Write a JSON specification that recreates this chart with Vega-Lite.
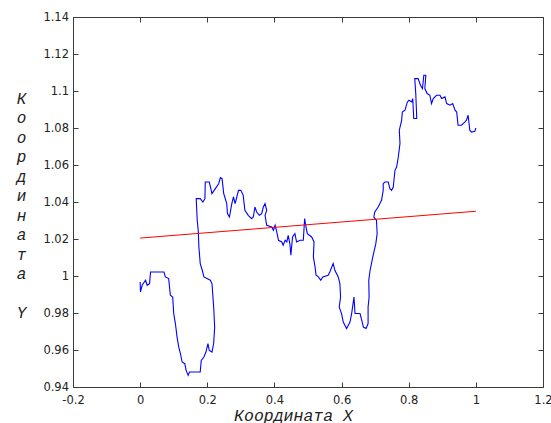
{
  "$schema": "https://vega.github.io/schema/vega-lite/v6.json",
  "width": 470,
  "height": 370,
  "autosize": {"type": "none"},
  "padding": {"left": 73, "top": 17, "right": 8, "bottom": 36},
  "background": "white",
  "config": {
    "view": {"stroke": null},
    "axis": {
      "grid": false,
      "domainColor": "#3a3a3a",
      "tickColor": "#3a3a3a",
      "tickSize": -5,
      "labelFont": "DejaVu Sans",
      "labelFontSize": 11.5,
      "labelColor": "#222222",
      "titleFont": "Liberation Mono",
      "titleFontStyle": "italic",
      "titleFontWeight": "normal",
      "titleColor": "#222222"
    }
  },
  "datasets": {
    "path": [
      {"i": 1, "x": 0.0, "y": 0.9968},
      {"i": 2, "x": 0.001, "y": 0.9914},
      {"i": 3, "x": 0.006, "y": 0.995},
      {"i": 4, "x": 0.016, "y": 0.9977},
      {"i": 5, "x": 0.021, "y": 0.995},
      {"i": 6, "x": 0.028, "y": 0.9959},
      {"i": 7, "x": 0.031, "y": 1.0022},
      {"i": 8, "x": 0.071, "y": 1.0022},
      {"i": 9, "x": 0.075, "y": 0.9995},
      {"i": 10, "x": 0.085, "y": 0.9986},
      {"i": 11, "x": 0.09, "y": 0.9896},
      {"i": 12, "x": 0.097, "y": 0.9886},
      {"i": 13, "x": 0.1, "y": 0.9797},
      {"i": 14, "x": 0.105, "y": 0.9743},
      {"i": 15, "x": 0.11, "y": 0.967},
      {"i": 16, "x": 0.115, "y": 0.9616},
      {"i": 17, "x": 0.12, "y": 0.9581},
      {"i": 18, "x": 0.125, "y": 0.9535},
      {"i": 19, "x": 0.133, "y": 0.9526},
      {"i": 20, "x": 0.137, "y": 0.949},
      {"i": 21, "x": 0.143, "y": 0.9463},
      {"i": 22, "x": 0.147, "y": 0.9481},
      {"i": 23, "x": 0.179, "y": 0.9481},
      {"i": 24, "x": 0.182, "y": 0.9544},
      {"i": 25, "x": 0.19, "y": 0.9562},
      {"i": 26, "x": 0.196, "y": 0.9589},
      {"i": 27, "x": 0.202, "y": 0.9635},
      {"i": 28, "x": 0.206, "y": 0.9598},
      {"i": 29, "x": 0.214, "y": 0.9589},
      {"i": 30, "x": 0.219, "y": 0.9635},
      {"i": 31, "x": 0.222, "y": 0.9724},
      {"i": 32, "x": 0.219, "y": 0.9832},
      {"i": 33, "x": 0.214, "y": 0.9959},
      {"i": 34, "x": 0.209, "y": 0.9977},
      {"i": 35, "x": 0.19, "y": 0.9995},
      {"i": 36, "x": 0.185, "y": 1.0031},
      {"i": 37, "x": 0.179, "y": 1.0067},
      {"i": 38, "x": 0.175, "y": 1.0157},
      {"i": 39, "x": 0.173, "y": 1.0247},
      {"i": 40, "x": 0.17, "y": 1.0301},
      {"i": 41, "x": 0.167, "y": 1.0418},
      {"i": 42, "x": 0.179, "y": 1.0418},
      {"i": 43, "x": 0.187, "y": 1.04},
      {"i": 44, "x": 0.193, "y": 1.0418},
      {"i": 45, "x": 0.194, "y": 1.0508},
      {"i": 46, "x": 0.206, "y": 1.0508},
      {"i": 47, "x": 0.214, "y": 1.0445},
      {"i": 48, "x": 0.224, "y": 1.0472},
      {"i": 49, "x": 0.234, "y": 1.0499},
      {"i": 50, "x": 0.239, "y": 1.0532},
      {"i": 51, "x": 0.244, "y": 1.0526},
      {"i": 52, "x": 0.249, "y": 1.0445},
      {"i": 53, "x": 0.258, "y": 1.0391},
      {"i": 54, "x": 0.26, "y": 1.0337},
      {"i": 55, "x": 0.266, "y": 1.0319},
      {"i": 56, "x": 0.273, "y": 1.0391},
      {"i": 57, "x": 0.278, "y": 1.0427},
      {"i": 58, "x": 0.283, "y": 1.0391},
      {"i": 59, "x": 0.293, "y": 1.0463},
      {"i": 60, "x": 0.3, "y": 1.0463},
      {"i": 61, "x": 0.307, "y": 1.0436},
      {"i": 62, "x": 0.312, "y": 1.0355},
      {"i": 63, "x": 0.322, "y": 1.0328},
      {"i": 64, "x": 0.332, "y": 1.031},
      {"i": 65, "x": 0.337, "y": 1.0319},
      {"i": 66, "x": 0.342, "y": 1.0373},
      {"i": 67, "x": 0.347, "y": 1.0346},
      {"i": 68, "x": 0.355, "y": 1.0328},
      {"i": 69, "x": 0.362, "y": 1.0337},
      {"i": 70, "x": 0.367, "y": 1.0373},
      {"i": 71, "x": 0.372, "y": 1.0391},
      {"i": 72, "x": 0.377, "y": 1.0355},
      {"i": 73, "x": 0.372, "y": 1.0328},
      {"i": 74, "x": 0.377, "y": 1.0274},
      {"i": 75, "x": 0.392, "y": 1.0265},
      {"i": 76, "x": 0.397, "y": 1.0247},
      {"i": 77, "x": 0.402, "y": 1.0274},
      {"i": 78, "x": 0.407, "y": 1.0238},
      {"i": 79, "x": 0.412, "y": 1.0193},
      {"i": 80, "x": 0.422, "y": 1.0184},
      {"i": 81, "x": 0.426, "y": 1.0166},
      {"i": 82, "x": 0.432, "y": 1.0193},
      {"i": 83, "x": 0.437, "y": 1.0184},
      {"i": 84, "x": 0.441, "y": 1.022},
      {"i": 85, "x": 0.446, "y": 1.0175},
      {"i": 86, "x": 0.449, "y": 1.0112},
      {"i": 87, "x": 0.454, "y": 1.0211},
      {"i": 88, "x": 0.461, "y": 1.0229},
      {"i": 89, "x": 0.466, "y": 1.0184},
      {"i": 90, "x": 0.476, "y": 1.0193},
      {"i": 91, "x": 0.486, "y": 1.0193},
      {"i": 92, "x": 0.49, "y": 1.031},
      {"i": 93, "x": 0.494, "y": 1.0265},
      {"i": 94, "x": 0.498, "y": 1.0229},
      {"i": 95, "x": 0.511, "y": 1.0211},
      {"i": 96, "x": 0.518, "y": 1.0184},
      {"i": 97, "x": 0.516, "y": 1.0103},
      {"i": 98, "x": 0.521, "y": 1.0049},
      {"i": 99, "x": 0.524, "y": 1.0004},
      {"i": 100, "x": 0.531, "y": 0.9995},
      {"i": 101, "x": 0.538, "y": 0.9977},
      {"i": 102, "x": 0.544, "y": 0.9995},
      {"i": 103, "x": 0.56, "y": 1.0004},
      {"i": 104, "x": 0.565, "y": 1.0022},
      {"i": 105, "x": 0.575, "y": 1.0067},
      {"i": 106, "x": 0.58, "y": 1.0031},
      {"i": 107, "x": 0.59, "y": 0.9995},
      {"i": 108, "x": 0.595, "y": 0.9959},
      {"i": 109, "x": 0.597, "y": 0.9886},
      {"i": 110, "x": 0.593, "y": 0.9832},
      {"i": 111, "x": 0.6, "y": 0.9797},
      {"i": 112, "x": 0.605, "y": 0.9751},
      {"i": 113, "x": 0.615, "y": 0.9716},
      {"i": 114, "x": 0.625, "y": 0.9751},
      {"i": 115, "x": 0.63, "y": 0.9797},
      {"i": 116, "x": 0.637, "y": 0.9886},
      {"i": 117, "x": 0.64, "y": 0.9797},
      {"i": 118, "x": 0.655, "y": 0.9797},
      {"i": 119, "x": 0.66, "y": 0.9761},
      {"i": 120, "x": 0.665, "y": 0.9724},
      {"i": 121, "x": 0.673, "y": 0.9716},
      {"i": 122, "x": 0.679, "y": 0.9743},
      {"i": 123, "x": 0.679, "y": 0.9832},
      {"i": 124, "x": 0.682, "y": 0.9886},
      {"i": 125, "x": 0.681, "y": 0.9977},
      {"i": 126, "x": 0.685, "y": 1.0031},
      {"i": 127, "x": 0.69, "y": 1.0076},
      {"i": 128, "x": 0.694, "y": 1.0112},
      {"i": 129, "x": 0.702, "y": 1.0175},
      {"i": 130, "x": 0.706, "y": 1.0229},
      {"i": 131, "x": 0.704, "y": 1.0301},
      {"i": 132, "x": 0.696, "y": 1.0319},
      {"i": 133, "x": 0.699, "y": 1.0346},
      {"i": 134, "x": 0.709, "y": 1.0373},
      {"i": 135, "x": 0.719, "y": 1.0409},
      {"i": 136, "x": 0.724, "y": 1.0463},
      {"i": 137, "x": 0.724, "y": 1.0499},
      {"i": 138, "x": 0.729, "y": 1.0508},
      {"i": 139, "x": 0.739, "y": 1.0508},
      {"i": 140, "x": 0.744, "y": 1.0472},
      {"i": 141, "x": 0.749, "y": 1.0463},
      {"i": 142, "x": 0.754, "y": 1.0481},
      {"i": 143, "x": 0.759, "y": 1.0571},
      {"i": 144, "x": 0.764, "y": 1.0589},
      {"i": 145, "x": 0.769, "y": 1.0643},
      {"i": 146, "x": 0.774, "y": 1.0716},
      {"i": 147, "x": 0.772, "y": 1.0788},
      {"i": 148, "x": 0.779, "y": 1.0842},
      {"i": 149, "x": 0.781, "y": 1.0886},
      {"i": 150, "x": 0.789, "y": 1.0896},
      {"i": 151, "x": 0.796, "y": 1.0941},
      {"i": 152, "x": 0.801, "y": 1.095},
      {"i": 153, "x": 0.809, "y": 1.0941},
      {"i": 154, "x": 0.812, "y": 1.0959},
      {"i": 155, "x": 0.815, "y": 1.0851},
      {"i": 156, "x": 0.824, "y": 1.0851},
      {"i": 157, "x": 0.821, "y": 1.0986},
      {"i": 158, "x": 0.818, "y": 1.1067},
      {"i": 159, "x": 0.828, "y": 1.1067},
      {"i": 160, "x": 0.835, "y": 1.1031},
      {"i": 161, "x": 0.841, "y": 1.1013},
      {"i": 162, "x": 0.845, "y": 1.1085},
      {"i": 163, "x": 0.851, "y": 1.1085},
      {"i": 164, "x": 0.848, "y": 1.1013},
      {"i": 165, "x": 0.855, "y": 1.0986},
      {"i": 166, "x": 0.863, "y": 1.0977},
      {"i": 167, "x": 0.868, "y": 1.0932},
      {"i": 168, "x": 0.873, "y": 1.0959},
      {"i": 169, "x": 0.883, "y": 1.0977},
      {"i": 170, "x": 0.893, "y": 1.0977},
      {"i": 171, "x": 0.898, "y": 1.0959},
      {"i": 172, "x": 0.908, "y": 1.0968},
      {"i": 173, "x": 0.913, "y": 1.0932},
      {"i": 174, "x": 0.923, "y": 1.0923},
      {"i": 175, "x": 0.931, "y": 1.0932},
      {"i": 176, "x": 0.938, "y": 1.0896},
      {"i": 177, "x": 0.943, "y": 1.0886},
      {"i": 178, "x": 0.947, "y": 1.0815},
      {"i": 179, "x": 0.957, "y": 1.0815},
      {"i": 180, "x": 0.967, "y": 1.0832},
      {"i": 181, "x": 0.972, "y": 1.0842},
      {"i": 182, "x": 0.977, "y": 1.0869},
      {"i": 183, "x": 0.982, "y": 1.0788},
      {"i": 184, "x": 0.987, "y": 1.0778},
      {"i": 185, "x": 0.997, "y": 1.0782},
      {"i": 186, "x": 1.0, "y": 1.08}
    ],
    "fit": [
      {"i": 1, "x": 0.0, "y": 1.0205},
      {"i": 2, "x": 1.0, "y": 1.035}
    ]
  },
  "layer": [
    {
      "data": {"name": "path"},
      "mark": {"type": "line", "color": "#0000ff", "strokeWidth": 1.1, "interpolate": "linear"},
      "encoding": {
        "x": {
          "field": "x", "type": "quantitative",
          "scale": {"domain": [-0.2, 1.2], "nice": false, "zero": false},
          "axis": {
            "orient": "bottom",
            "values": [-0.2, 0, 0.2, 0.4, 0.6, 0.8, 1, 1.2],
            "labelExpr": "'' + datum.value",
            "labelPadding": 12,
            "labelFlush": false,
            "labelOverlap": false,
            "title": "Координата X",
            "titleFontSize": 16.5,
            "titleX": 220,
            "titleY": 33,
            "titleAlign": "center",
            "titleBaseline": "alphabetic"
          }
        },
        "y": {
          "field": "y", "type": "quantitative",
          "scale": {"domain": [0.94, 1.14], "nice": false, "zero": false},
          "axis": {
            "orient": "left",
            "values": [0.94, 0.96, 0.98, 1, 1.02, 1.04, 1.06, 1.08, 1.1, 1.12, 1.14],
            "labelExpr": "'' + datum.value",
            "labelPadding": 9.5,
            "labelFlush": false,
            "labelOverlap": false,
            "title": ["К", "о", "о", "р", "д", "и", "н", "а", "т", "а", "\u200b", "Y"],
            "titleFontSize": 16,
            "titleAngle": 0,
            "titleLineHeight": 19.5,
            "titleX": -52,
            "titleY": 73,
            "titleAlign": "center",
            "titleBaseline": "top"
          }
        },
        "order": {"field": "i", "type": "quantitative"}
      }
    },
    {
      "data": {"name": "fit"},
      "mark": {"type": "line", "color": "#ff0000", "strokeWidth": 1},
      "encoding": {
        "x": {
          "field": "x", "type": "quantitative",
          "axis": {
            "orient": "top",
            "values": [-0.2, 0, 0.2, 0.4, 0.6, 0.8, 1, 1.2],
            "labels": false,
            "title": null
          }
        },
        "y": {
          "field": "y", "type": "quantitative",
          "axis": {
            "orient": "right",
            "values": [0.94, 0.96, 0.98, 1, 1.02, 1.04, 1.06, 1.08, 1.1, 1.12, 1.14],
            "labels": false,
            "title": null
          }
        },
        "order": {"field": "i", "type": "quantitative"}
      }
    }
  ],
  "resolve": {"axis": {"x": "independent", "y": "independent"}}
}
